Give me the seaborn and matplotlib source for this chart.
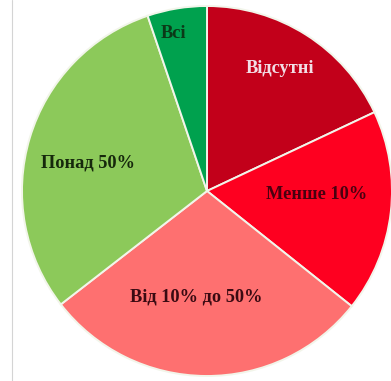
import matplotlib
matplotlib.use("Agg")
import matplotlib.pyplot as plt
import seaborn as sns
import numpy as np
from matplotlib.lines import Line2D

# Shares of each category (percent)
categories = ["Відсутні", "Менше 10%", "Від 10% до 50%", "Понад 50%", "Всі"]
shares = [18, 17.7, 28.8, 30.3, 5.2]
colors = ["#C2001A", "#FE0020", "#FE7070", "#8CC95A", "#00A14E"]
text_colors = ["#F2DEE6", "#4A0010", "#3A0A12", "#16280C", "#0B3A18"]

# label placement inside each wedge: radius fraction and angular nudge (deg)
label_radius = [0.77, 0.595, 0.576, 0.66, 0.87]
label_nudge = [1.8, 5.0, -5.5, 3.5, 2.8]

sns.set_theme(style="white")
plt.rcParams["font.family"] = ["Liberation Serif", "DejaVu Serif"]

fig = plt.figure(figsize=(3.91, 3.81), dpi=100)
ax = fig.add_axes([22 / 391, 5 / 381, 370 / 391, 370 / 381])

wedges, _ = ax.pie(
    shares,
    colors=colors,
    startangle=90,
    counterclock=False,
    radius=1.0,
    wedgeprops=dict(edgecolor="#F2F5EA", linewidth=1.4),
)
ax.set_xlim(-1, 1)
ax.set_ylim(-1, 1)
ax.set_aspect("equal")
ax.axis("off")

for w, name, tc, r, nd in zip(wedges, categories, text_colors, label_radius, label_nudge):
    mid = np.deg2rad((w.theta1 + w.theta2) / 2 + nd)
    ax.text(r * np.cos(mid), r * np.sin(mid), name, ha="center", va="center",
            fontsize=13.2, fontweight="bold", color=tc)

# thin frame line along the left margin
fig.add_artist(Line2D([12 / 391, 12 / 391], [0, 1], transform=fig.transFigure,
                      color="#D4D4D4", linewidth=0.8))

fig.savefig("out.png", dpi=100)
